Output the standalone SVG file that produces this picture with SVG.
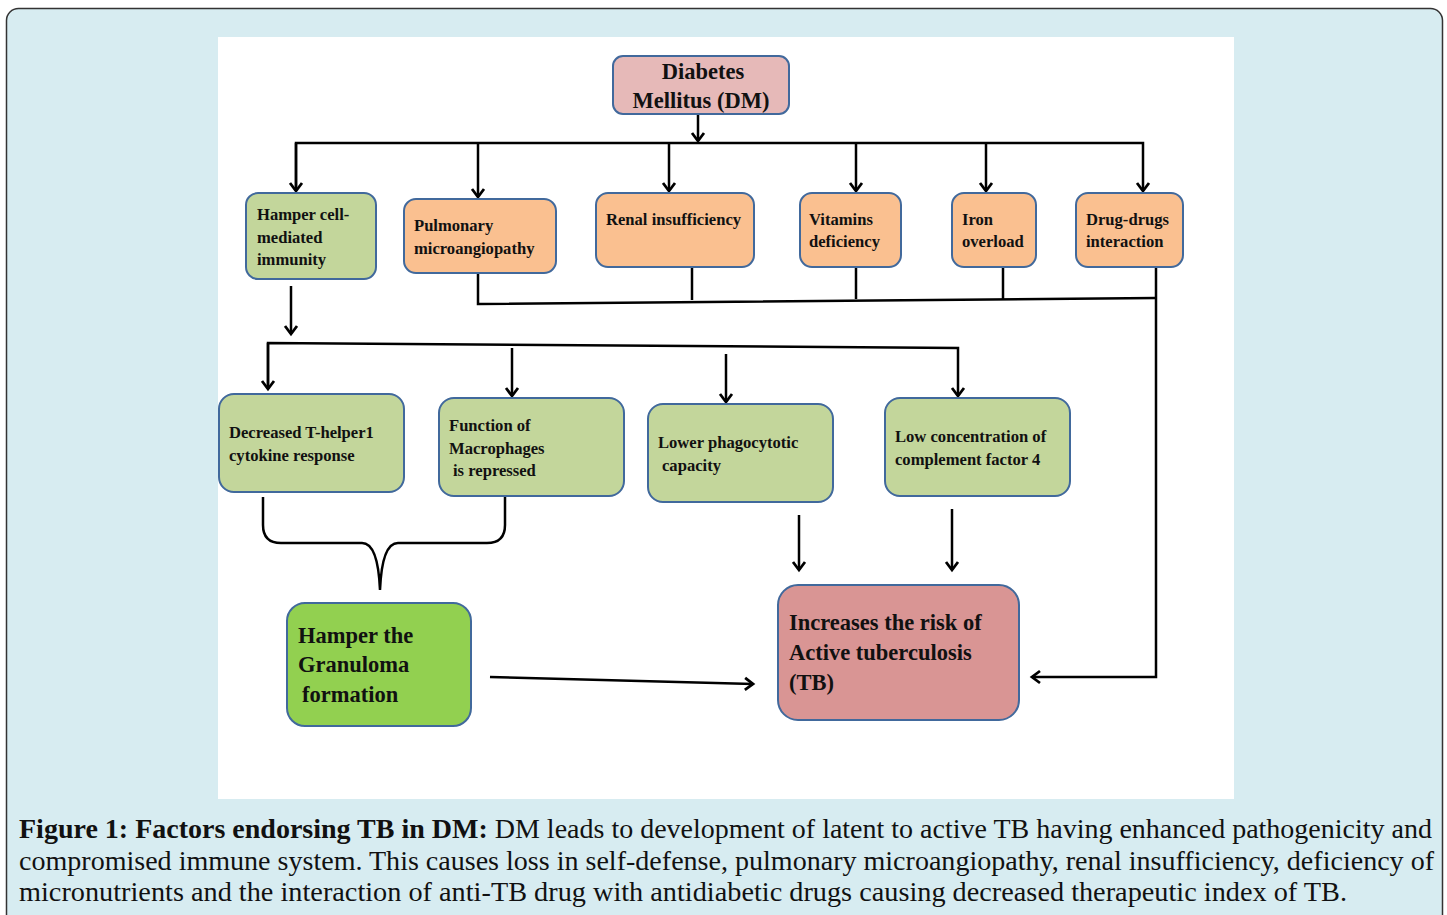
<svg xmlns="http://www.w3.org/2000/svg" width="1447" height="915" viewBox="0 0 1447 915">
<style>
.box{stroke:#41699c;stroke-width:2}
.g{fill:#c3d69b}.o{fill:#fac090}.p{fill:#e6b9b8}.r{fill:#d99594}.lg{fill:#92d050}
.t{font-family:"Liberation Serif","Times New Roman",serif;font-weight:bold;fill:#111}
.s{font-size:16.6px}.b{font-size:22.5px}
.ln{fill:none;stroke:#000;stroke-width:2.5}
.cap{font-family:"Liberation Serif","Times New Roman",serif;font-size:27px;fill:#111}
</style>
<defs>
<marker id="ah" markerWidth="16" markerHeight="16" refX="11" refY="8" orient="auto" markerUnits="userSpaceOnUse">
<path d="M3,2 L11,8 L3,14" fill="none" stroke="#000" stroke-width="2.8"/>
</marker>
</defs>
<rect x="0" y="0" width="1447" height="915" fill="#ffffff"/>
<rect x="6.5" y="8.5" width="1436" height="930" rx="12" fill="#d7ecf1" stroke="#333" stroke-width="1.5"/>
<rect x="218" y="37" width="1016" height="762" fill="#ffffff"/>

<g id="connectors">
<line class="ln" x1="698" y1="114" x2="698" y2="141" marker-end="url(#ah)"/>
<polyline class="ln" points="296,191 296,143 1143,143 1143,191" marker-end="url(#ah)"/>
<line class="ln" x1="296" y1="143" x2="296" y2="191" marker-end="url(#ah)"/>
<line class="ln" x1="478" y1="143" x2="478" y2="197" marker-end="url(#ah)"/>
<line class="ln" x1="669" y1="143" x2="669" y2="191" marker-end="url(#ah)"/>
<line class="ln" x1="856" y1="143" x2="856" y2="191" marker-end="url(#ah)"/>
<line class="ln" x1="986" y1="143" x2="986" y2="191" marker-end="url(#ah)"/>
<polyline class="ln" points="478,273 478,304 1156,298"/>
<line class="ln" x1="692" y1="267" x2="692" y2="300"/>
<line class="ln" x1="856" y1="267" x2="856" y2="299"/>
<line class="ln" x1="1003" y1="267" x2="1003" y2="299"/>
<polyline class="ln" points="1156,267 1156,677 1032,677" marker-end="url(#ah)"/>
<line class="ln" x1="291" y1="286" x2="291" y2="334" marker-end="url(#ah)"/>
<polyline class="ln" points="268,389 268,343 958,348 958,396" marker-end="url(#ah)"/>
<line class="ln" x1="268" y1="343" x2="268" y2="389" marker-end="url(#ah)"/>
<line class="ln" x1="512" y1="348" x2="512" y2="396" marker-end="url(#ah)"/>
<line class="ln" x1="726" y1="354" x2="726" y2="402" marker-end="url(#ah)"/>
<path class="ln" d="M263,497 L263,525 Q263,543 281,543 L362,543 Q378,543 380,590 Q382,543 398,543 L487,543 Q505,543 505,525 L505,497"/>
<line class="ln" x1="490" y1="677" x2="753" y2="684" marker-end="url(#ah)"/>
<line class="ln" x1="799" y1="515" x2="799" y2="570" marker-end="url(#ah)"/>
<line class="ln" x1="952" y1="509" x2="952" y2="570" marker-end="url(#ah)"/>
</g>

<g id="dm">
<rect class="box p" x="613" y="56" width="176" height="58" rx="10"/>
<text class="t b" x="703" y="79" text-anchor="middle">Diabetes</text>
<text class="t b" x="701" y="108" text-anchor="middle">Mellitus (DM)</text>
</g>

<g id="hamper-cell">
<rect class="box g" x="246" y="193" width="130" height="86" rx="12"/>
<text class="t s" x="257" y="220">Hamper cell-</text>
<text class="t s" x="257" y="243">mediated</text>
<text class="t s" x="257" y="265">immunity</text>
</g>
<g id="pulmonary">
<rect class="box o" x="404" y="199" width="152" height="74" rx="12"/>
<text class="t s" x="414" y="231">Pulmonary</text>
<text class="t s" x="414" y="254">microangiopathy</text>
</g>
<g id="renal">
<rect class="box o" x="596" y="193" width="158" height="74" rx="12"/>
<text class="t s" x="606" y="225">Renal insufficiency</text>
</g>
<g id="vitamins">
<rect class="box o" x="800" y="193" width="101" height="74" rx="12"/>
<text class="t s" x="809" y="225">Vitamins</text>
<text class="t s" x="809" y="247">deficiency</text>
</g>
<g id="iron">
<rect class="box o" x="952" y="193" width="84" height="74" rx="12"/>
<text class="t s" x="962" y="225">Iron</text>
<text class="t s" x="962" y="247">overload</text>
</g>
<g id="drug">
<rect class="box o" x="1076" y="193" width="107" height="74" rx="12"/>
<text class="t s" x="1086" y="225">Drug-drugs</text>
<text class="t s" x="1086" y="247">interaction</text>
</g>

<g id="th1">
<rect class="box g" x="219" y="394" width="185" height="98" rx="15"/>
<text class="t s" x="229" y="438">Decreased T-helper1</text>
<text class="t s" x="229" y="461">cytokine response</text>
</g>
<g id="macrophages">
<rect class="box g" x="439" y="398" width="185" height="98" rx="15"/>
<text class="t s" x="449" y="431">Function of</text>
<text class="t s" x="449" y="454">Macrophages</text>
<text class="t s" x="453" y="476">is repressed</text>
</g>
<g id="phagocytotic">
<rect class="box g" x="648" y="404" width="185" height="98" rx="15"/>
<text class="t s" x="658" y="448">Lower phagocytotic</text>
<text class="t s" x="662" y="471">capacity</text>
</g>
<g id="complement">
<rect class="box g" x="885" y="398" width="185" height="98" rx="15"/>
<text class="t s" x="895" y="442">Low concentration of</text>
<text class="t s" x="895" y="465">complement factor 4</text>
</g>

<g id="granuloma">
<rect class="box lg" x="287" y="603" width="184" height="123" rx="18"/>
<text class="t b" x="298" y="643">Hamper the</text>
<text class="t b" x="298" y="672">Granuloma</text>
<text class="t b" x="302" y="702">formation</text>
</g>
<g id="tb">
<rect class="box r" x="778" y="585" width="241" height="135" rx="20"/>
<text class="t b" x="789" y="630">Increases the risk of</text>
<text class="t b" x="789" y="660">Active tuberculosis</text>
<text class="t b" x="789" y="690">(TB)</text>
</g>

<g id="caption">
<text class="cap" x="19" y="838" textLength="1413" lengthAdjust="spacingAndGlyphs"><tspan font-weight="bold">Figure 1: Factors endorsing TB in DM:</tspan> DM leads to development of latent to active TB having enhanced pathogenicity and</text>
<text class="cap" x="19" y="870" textLength="1415" lengthAdjust="spacingAndGlyphs">compromised immune system. This causes loss in self-defense, pulmonary microangiopathy, renal insufficiency, deficiency of</text>
<text class="cap" x="19" y="901" textLength="1328" lengthAdjust="spacingAndGlyphs">micronutrients and the interaction of anti-TB drug with antidiabetic drugs causing decreased therapeutic index of TB.</text>
</g>
</svg>
